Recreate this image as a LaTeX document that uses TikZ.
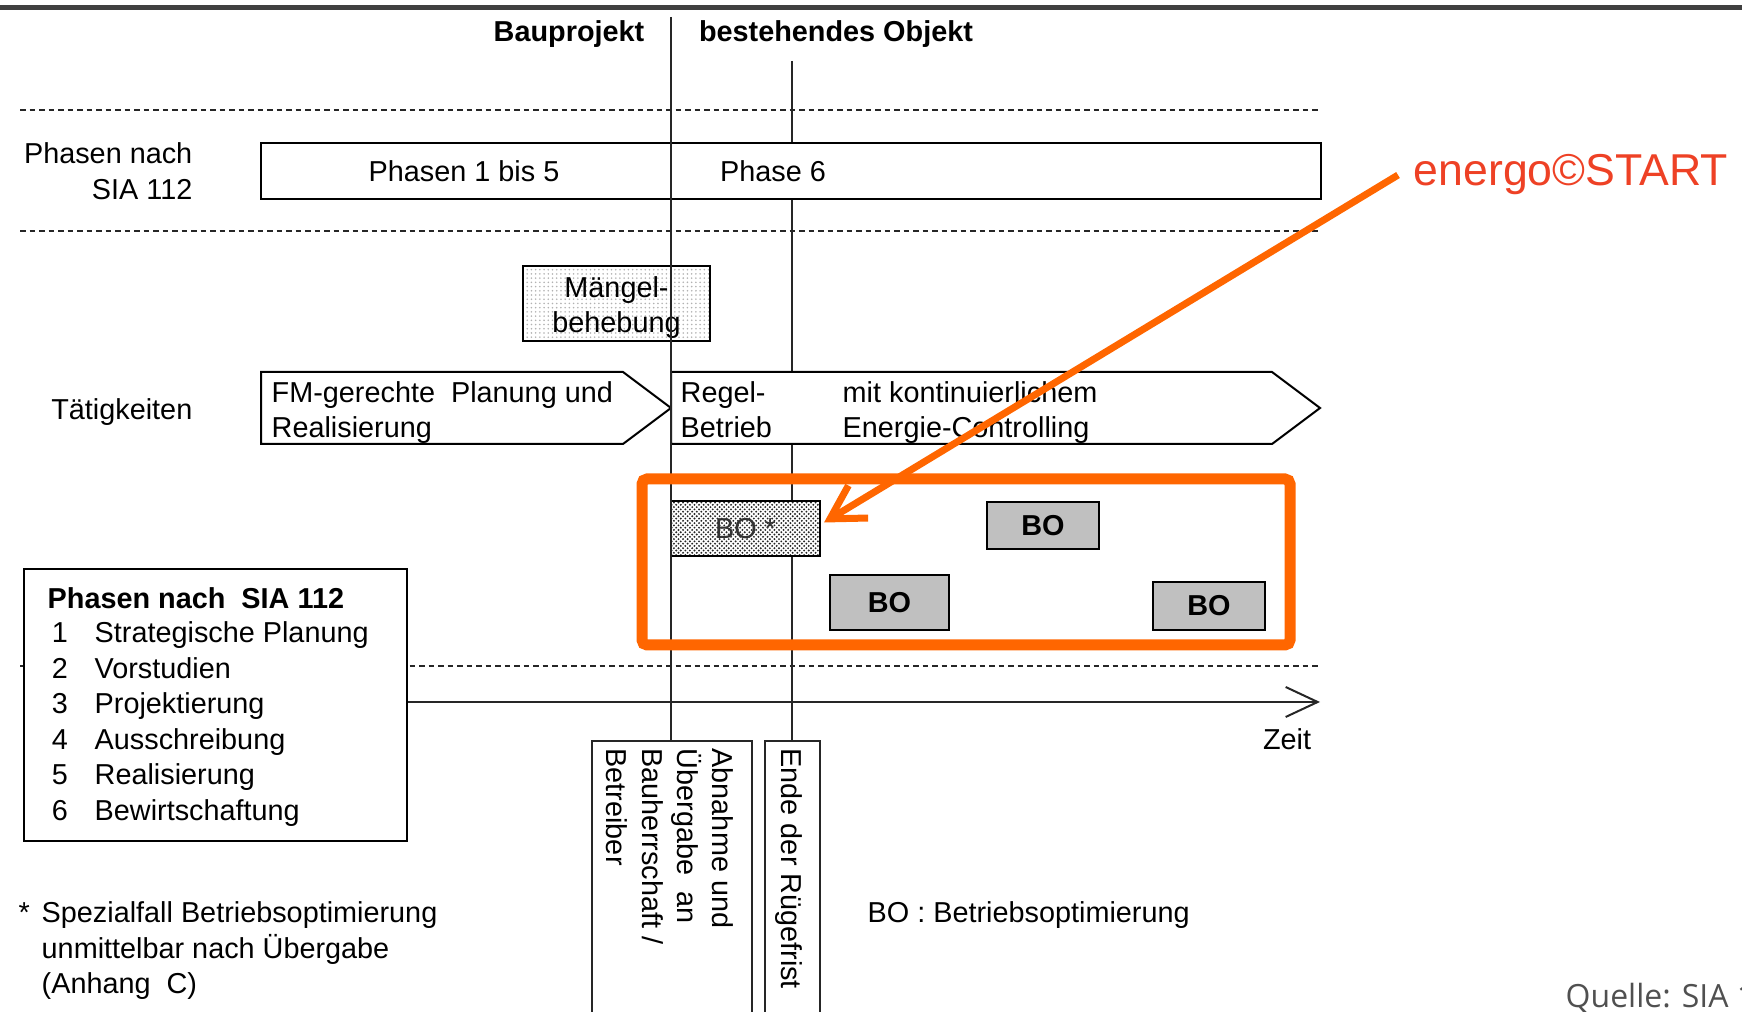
\documentclass[tikz,border=0pt]{standalone}
\usepackage{fontspec}
\setmainfont{Liberation Sans}
\newfontfamily\quellefont{Open Sans}
\usetikzlibrary{arrows.meta,patterns.meta}

\definecolor{barcol}{HTML}{404040}
\definecolor{bogray}{HTML}{C0C0C0}
\definecolor{energoorange}{HTML}{FF6600}
\definecolor{energored}{HTML}{EE4125}
\definecolor{quellegray}{HTML}{505050}

\newcommand\diafont{\fontsize{8.2}{10}\selectfont}

% dotted fills for the special cases
\tikzdeclarepattern{
  name=smalldots,
  type=uncolored,
  bottom left={(-0.35pt,-0.35pt)},
  top right={(1.0pt,1.0pt)},
  tile size={(1.3pt,1.3pt)},
  code={
    \fill (0pt,0pt) circle (0.3pt);
    \fill (0.65pt,0.65pt) circle (0.3pt);
  }
}
\tikzdeclarepattern{
  name=lightdots,
  type=uncolored,
  bottom left={(-0.3pt,-0.3pt)},
  top right={(0.3pt,0.3pt)},
  tile size={(1.2pt,1.2pt)},
  code={\fill (0pt,0pt) circle (0.25pt);}
}

\tikzset{
  vline/.style={line width=0.2mm, black!85},
  sepline/.style={line width=0.2mm, black!85, dash pattern=on 0.55mm off 0.4mm},
  framebox/.style={draw, line width=0.2mm, fill=white},
  bobox/.style={draw, line width=0.2mm, fill=bogray, font=\diafont\bfseries},
  dotbox/.style={draw, line width=0.2mm, preaction={fill=white}},
  vtext/.style={rotate=-90, align=left, anchor=north west},
}

\begin{document}
\begin{tikzpicture}[x=1mm,y=-1mm,font=\diafont,inner sep=0pt]
\useasboundingbox (0,0) rectangle (174.2,101.2);
\fill[barcol] (0,0.55) rectangle (174.2,1.05);

% separators and end of Ruegefrist
\draw[sepline] (2.0,11.0) -- (132.0,11.0);
\draw[sepline] (2.0,23.1) -- (132.0,23.1);
\draw[sepline] (2.0,66.6) -- (131.8,66.6);
\draw[vline] (79.2,6.1) -- (79.2,74.1);

\node[font=\diafont\bfseries, anchor=base] (bau) at (56.9,4.14) {Bauprojekt};
\node[font=\diafont\bfseries, anchor=base] (objekt) at (83.6,4.14) {bestehendes Objekt};

% phases
\draw[framebox] (26.1,14.3) rectangle (132.1,19.9);
\node[align=right, anchor=north east] (phlabel) at (19.3,14.23) {Phasen nach\\SIA 112};
\node[anchor=base] (ph15) at (46.4,18.14) {Phasen 1 bis 5};
\node[anchor=base] (ph6) at (77.3,18.14) {Phase 6};

% activities
\node[dotbox, pattern=lightdots, pattern color=black!30, minimum width=18.7mm,
  minimum height=7.5mm] (maengel) at (61.65,30.35) {};
\node[align=center, anchor=north] (maengeltxt) at (61.65,27.6) {Mängel-\\behebung};
\node[anchor=base east] (taet) at (19.3,41.94) {Tätigkeiten};
\draw[framebox] (26.1,37.2) -- (62.3,37.2) -- (67.1,40.8) -- (62.3,44.4) -- (26.1,44.4) -- cycle;
\draw[framebox] (67.1,37.2) -- (127.2,37.2) -- (132.0,40.8) -- (127.2,44.4) -- (67.1,44.4) -- cycle;
\node[align=left, anchor=north west] (fm) at (27.1,38.1) {FM-gerechte\ \ Planung und\\Realisierung};
\node[align=left, anchor=north west] (regel) at (68.0,38.1) {Regel-\\Betrieb};
\node[align=left, anchor=north west] (controlling) at (84.2,38.1) {mit kontinuierlichem\\Energie-Controlling};

% Betriebsoptimierungen
\node[dotbox, pattern=smalldots, pattern color=black!85, text=black!80,
  minimum width=14.9mm, minimum height=5.5mm] (bostar) at (74.55,52.85) {BO *};
\node[bobox, minimum width=11.2mm, minimum height=4.7mm] (bo1) at (104.3,52.55) {BO};
\node[bobox, minimum width=11.9mm, minimum height=5.5mm] (bo2) at (88.95,60.25) {BO};
\node[bobox, minimum width=11.2mm, minimum height=4.8mm] (bo3) at (120.9,60.6) {BO};

\draw[vline] (67.1,1.7) -- (67.1,74.1);

% legend and time axis
\node[framebox, minimum width=38.3mm, minimum height=27.2mm] (legend) at (21.55,70.5) {};
\node[font=\diafont\bfseries, anchor=base west] (legtitle) at (4.7,60.84) {Phasen nach\ \ SIA 112};
\foreach \num/\txt [count=\i from 0] in {1/Strategische Planung, 2/Vorstudien,
    3/Projektierung, 4/Ausschreibung, 5/Realisierung, 6/Bewirtschaftung}
{
  \node[anchor=base] (num\num) at (6.0,64.3+3.55*\i) {\num};
  \node[anchor=base west] (item\num) at (9.4,64.3+3.55*\i) {\txt};
}
\coordinate (axisend) at (132.0,70.2);
\draw[vline, -{Straight Barb[length=3.2mm,width=3.0mm]}] (legend.east |- axisend) -- (axisend);
\node[anchor=base] (zeit) at (128.7,74.94) {Zeit};

% milestones
\draw[vline] (59.2,101.2) |- (75.2,74.1) -- (75.2,101.2);
\draw[vline] (76.5,101.2) |- (82.0,74.1) -- (82.0,101.2);
\node[vtext] (abnahme) at (73.4,74.8) {Abnahme und\\Übergabe\ \ an\\Bauherrschaft /\\Betreiber};
\node[vtext] (ruege) at (80.3,74.8) {Ende der Rügefrist};

% footnotes
\node[anchor=base west] (bolegend) at (86.7,92.24) {BO : Betriebsoptimierung};
\node[anchor=base west] (fnstar) at (1.8,92.24) {*};
\node[align=left, anchor=north west] (fntext) at (4.1,90.13) {Spezialfall Betriebsoptimierung\\unmittelbar nach Übergabe\\(Anhang\ \ C)};
\node[font=\quellefont\fontsize{9.1}{11}\selectfont, text=quellegray, anchor=base west] (quelle) at (156.5,100.8) {Quelle: SIA 1};

% energo highlight
\node[font=\fontsize{12.7}{15}\selectfont, text=energored, anchor=base west, inner xsep=1.5mm] (energo) at (139.8,18.6) {energo©START};
\draw[energoorange, line width=1.1mm, rounded corners=0.5mm] (64.2,47.9) rectangle (129.0,64.5);
\draw[energoorange, line width=0.7mm, -{Straight Barb[length=3.3mm,width=3.8mm]}]
  (energo.west) -- ([shift={(0.3,-0.6)}]bostar.east);
\end{tikzpicture}
\end{document}
